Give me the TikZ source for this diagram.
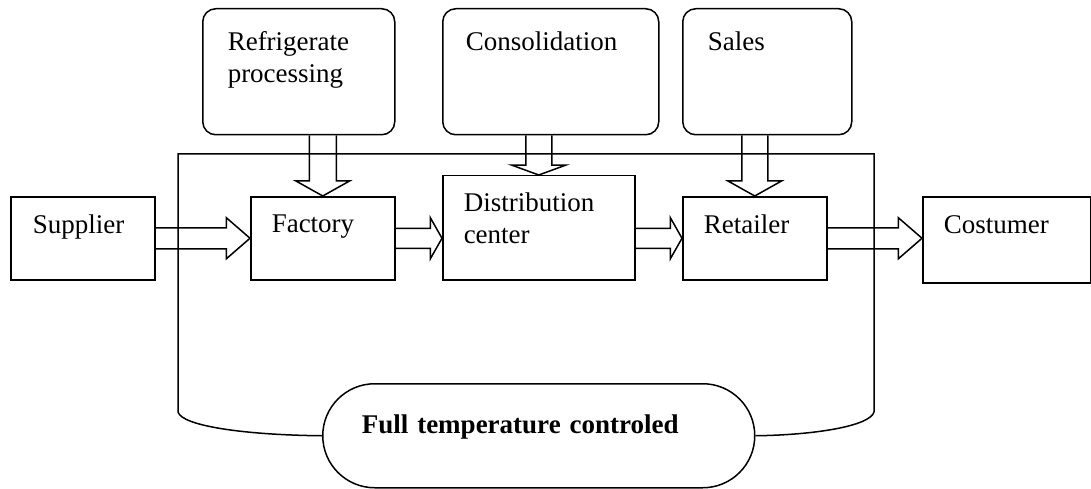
\documentclass[tikz,border=0pt]{standalone}
\usepackage{fontspec}
\setmainfont{Liberation Serif}
\usetikzlibrary{calc}

\tikzset{
	stage/.style={draw, anchor=north west, align=left, inner ysep=0pt, line width=1.5pt, font=\fontsize{27}{32}\selectfont},
	task/.style={stage, rounded corners=13pt},
	flow/.style={line width=1.5pt, line join=miter},
	frame/.style={line width=1.5pt}
}

% outlined block arrow, head = last quarter of the length
\newcommand{\flowarrow}[4]{
	\coordinate (fa-s) at (#1);
	\coordinate (fa-e) at (#2);
	\coordinate (fa-h) at ($(fa-s)!0.75!(fa-e)$);
	\draw[flow] ($(fa-s)!#3!90:(fa-e)$) -- ($(fa-h)!#3!90:(fa-e)$) -- ($(fa-h)!#4!90:(fa-e)$) -- (fa-e)
		-- ($(fa-h)!#4!-90:(fa-e)$) -- ($(fa-h)!#3!-90:(fa-e)$) -- ($(fa-s)!#3!-90:(fa-e)$);
}

\begin{document}
\begin{tikzpicture}[x=1pt, y=-1pt]

	\useasboundingbox (0, 0) rectangle (1091, 489);

	\draw (202, 8) node (refrigerate) [task, inner xsep=25pt, text width=142pt, text height=42pt, text depth=84pt] {Refrigerate\\processing};
	\draw (442, 8) node (consolidation) [task, inner xsep=23pt, text width=170pt, text height=42pt, text depth=84pt] {Consolidation};
	\draw (682, 8) node (sales) [task, inner xsep=25pt, text width=119pt, text height=42pt, text depth=84pt] {Sales};

	\draw (10, 196) node (supplier) [stage, inner xsep=22pt, text width=100pt, text height=37pt, text depth=46pt] {Supplier};
	\draw (250, 196) node (factory) [stage, inner xsep=21pt, text width=102pt, text height=36pt, text depth=47pt] {Factory};
	\draw (442, 175) node (distribution) [stage, inner xsep=21pt, text width=150pt, text height=36pt, text depth=68pt] {Distribution\\center};
	\draw (682, 196) node (retailer) [stage, inner xsep=21pt, text width=102pt, text height=37pt, text depth=46pt] {Retailer};
	\draw (922, 196) node (costumer) [stage, inner xsep=21pt, text width=126pt, text height=37pt, text depth=49pt] {Costumer};

	\draw (322, 383) node (oval) [stage, rounded corners=52pt, inner xsep=39pt, text width=354pt, text height=50pt, text depth=54pt, font=\fontsize{27}{32}\selectfont\bfseries] {Full temperature controled};

	\draw[frame] (oval.west) .. controls (245, 435) and (182, 426) .. (178, 412) -- (178, 154) -- (874, 154)
		-- (874, 412) .. controls (870, 426) and (815, 435) .. (oval.east);

	\flowarrow{supplier.east}{factory.west}{10.5pt}{20.5pt}
	\flowarrow{factory.east}{factory.east -| distribution.west}{10pt}{20.5pt}
	\flowarrow{retailer.west -| distribution.east}{retailer.west}{10pt}{20.5pt}
	\flowarrow{retailer.east}{retailer.east -| costumer.west}{10.5pt}{20.5pt}

	\flowarrow{refrigerate.south -| factory.north}{factory.north}{13.5pt}{27pt}
	\flowarrow{consolidation.south -| distribution.north}{distribution.north}{13pt}{27pt}
	\flowarrow{sales.south -| retailer.north}{retailer.north}{13pt}{27pt}

\end{tikzpicture}
\end{document}
